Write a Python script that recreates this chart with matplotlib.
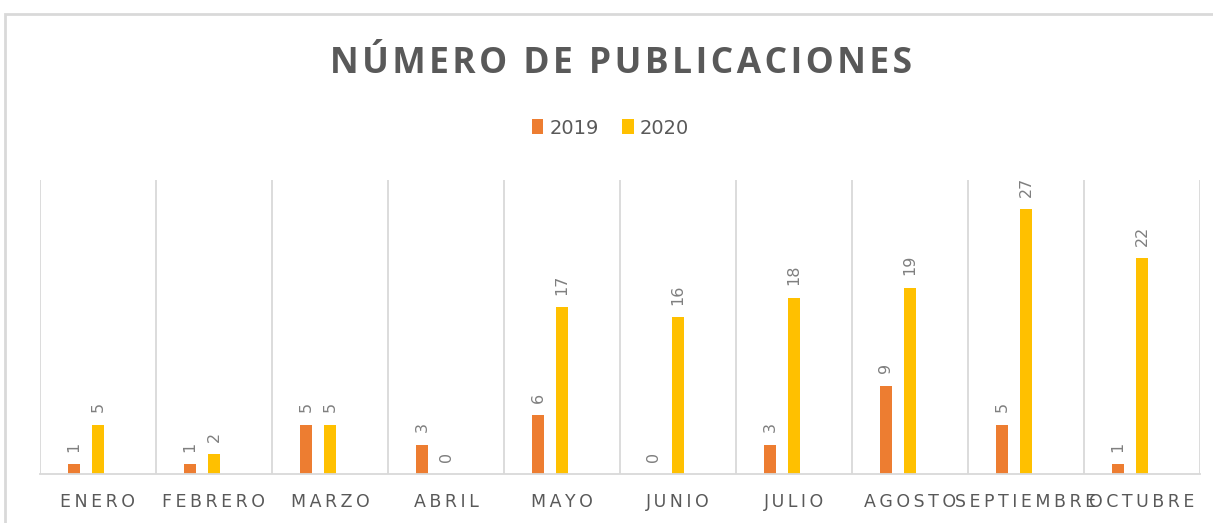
import matplotlib.pyplot as plt
import numpy as np
from matplotlib.patches import Rectangle

meses = ['ENERO', 'FEBRERO', 'MARZO', 'ABRIL', 'MAYO', 'JUNIO',
         'JULIO', 'AGOSTO', 'SEPTIEMBRE', 'OCTUBRE']
y2019 = [1, 1, 5, 3, 6, 0, 3, 9, 5, 1]
y2020 = [5, 2, 5, 0, 17, 16, 18, 19, 27, 22]

c19 = '#ED7D31'
c20 = '#FFC000'
gris = '#595959'

fig = plt.figure(figsize=(12.13, 5.23), dpi=100)
ax = fig.add_axes([40 / 1213, 49 / 523, 1160 / 1213, 294 / 523])

x = np.arange(len(meses))
w = 0.108
b1 = ax.bar(x - 0.207, y2019, w, color=c19, label='2019')
b2 = ax.bar(x, y2020, w, color=c20, label='2020')

for bars, vals in ((b1, y2019), (b2, y2020)):
    for r, v in zip(bars, vals):
        ax.annotate(str(v), (r.get_x() + r.get_width() / 2, v),
                    xytext=(0, 9), textcoords='offset points',
                    rotation=90, ha='center', va='bottom',
                    fontsize=11.5, color='#7f7f7f')

ax.set_xlim(-0.5, len(meses) - 0.5)
ax.set_ylim(0, 30)
ax.set_yticks([])
for b in np.arange(-0.5, len(meses), 1.0):
    ax.axvline(b, color='#d9d9d9', lw=1.3, zorder=0)

ax.set_xticks(x)
ax.set_xticklabels(['\u2009'.join(m) for m in meses], fontsize=12.5, color=gris)
ax.tick_params(axis='x', length=0, pad=14)
for s in ['top', 'right', 'left']:
    ax.spines[s].set_visible(False)
ax.spines['bottom'].set_color('#d9d9d9')
ax.spines['bottom'].set_linewidth(1.3)

titulo = 'NÚMERO DE PUBLICACIONES'
fig.text(0.512, 0.877, '\u200a'.join(titulo), ha='center', va='center',
         fontsize=25.5, fontweight='bold', color=gris,
         family=['Open Sans', 'DejaVu Sans'])

fig.legend(loc='center', bbox_to_anchor=(0.503, 0.755), ncol=2, frameon=False,
           fontsize=14, handlelength=0.6, handleheight=0.8, handletextpad=0.3,
           columnspacing=1.2, labelcolor=gris)

fig.patches.append(Rectangle((5 / 1213, -0.1), 1.1, (523 - 14) / 523 + 0.1,
                             transform=fig.transFigure, fill=False,
                             edgecolor='#d9d9d9', lw=2))

fig.savefig('out.png', dpi=100)
